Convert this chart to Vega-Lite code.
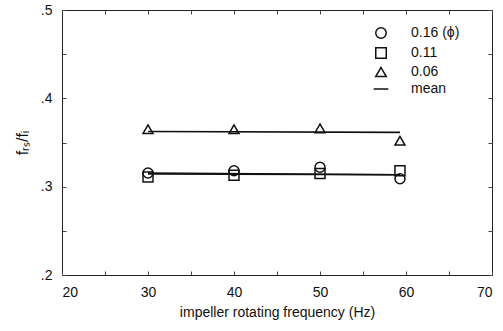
{
  "$schema": "https://vega.github.io/schema/vega-lite/v6.json",
  "autosize": "none",
  "width": 430,
  "height": 265,
  "padding": {"left": 62, "top": 10, "right": 11, "bottom": 56},
  "background": "white",
  "config": {
    "font": "Liberation Sans",
    "view": {"stroke": "#222", "strokeWidth": 1},
    "axis": {"grid": false, "domain": false, "labelFont": "Liberation Sans", "titleFont": "Liberation Sans", "labelColor": "#111", "titleColor": "#111", "titleFontWeight": "normal", "tickColor": "#444", "labelFontSize": 14, "titleFontSize": 14}
  },
  "datasets": {
    "pts": [
      {"series": "0.16 (ϕ)", "freq": 30, "ratio": 0.3155},
      {"series": "0.16 (ϕ)", "freq": 40, "ratio": 0.318},
      {"series": "0.16 (ϕ)", "freq": 50, "ratio": 0.322},
      {"series": "0.16 (ϕ)", "freq": 59.3, "ratio": 0.309},
      {"series": "0.11", "freq": 30, "ratio": 0.311},
      {"series": "0.11", "freq": 40, "ratio": 0.313},
      {"series": "0.11", "freq": 50, "ratio": 0.315},
      {"series": "0.11", "freq": 59.3, "ratio": 0.318},
      {"series": "0.06", "freq": 30, "ratio": 0.365},
      {"series": "0.06", "freq": 40, "ratio": 0.365},
      {"series": "0.06", "freq": 50, "ratio": 0.366},
      {"series": "0.06", "freq": 59.3, "ratio": 0.352}
    ],
    "means": [
      {"series": "0.16 (ϕ)", "freq": 30, "ratio": 0.3155},
      {"series": "0.16 (ϕ)", "freq": 59.3, "ratio": 0.3135},
      {"series": "0.11", "freq": 30, "ratio": 0.3145},
      {"series": "0.11", "freq": 59.3, "ratio": 0.3135},
      {"series": "0.06", "freq": 30, "ratio": 0.3625},
      {"series": "0.06", "freq": 59.3, "ratio": 0.3615}
    ]
  },
  "layer": [
    {
      "data": {"name": "means"},
      "mark": {"type": "line", "color": "#111", "strokeWidth": 1.6},
      "encoding": {
        "x": {"field": "freq", "type": "quantitative", "scale": {"domain": [20, 70]},
          "axis": {"orient": "bottom", "values": [20,25,30,35,40,45,50,55,60,65,70], "labelExpr": "datum.value % 10 === 0 ? datum.label : ''", "tickSize": -4, "labelPadding": 14, "title": "impeller rotating frequency (Hz)", "titlePadding": 6}},
        "y": {"field": "ratio", "type": "quantitative", "scale": {"domain": [0.2, 0.5]},
          "axis": {"orient": "left", "values": [0.2,0.25,0.3,0.35,0.4,0.45,0.5], "labelExpr": "abs(datum.value*10 - round(datum.value*10)) < 0.001 ? replace(format(datum.value, '.1f'), '0.', '.') : ''", "tickSize": -4, "labelPadding": 14, "title": "fᵣₛ/fᵢ", "titleFontSize": 16, "titlePadding": 10}},
        "detail": {"field": "series"}
      }
    },
    {
      "data": {"name": "pts"},
      "mark": {"type": "point", "filled": false, "strokeWidth": 1.5, "size": 100, "color": "#111", "opacity": 1},
      "encoding": {
        "x": {"field": "freq", "type": "quantitative", "axis": {"orient": "top", "values": [20,25,30,35,40,45,50,55,60,65,70], "labels": false, "tickSize": -4, "title": null}},
        "y": {"field": "ratio", "type": "quantitative", "axis": {"orient": "right", "values": [0.2,0.25,0.3,0.35,0.4,0.45,0.5], "labels": false, "tickSize": -4, "title": null}},
        "shape": {"field": "series", "type": "nominal",
          "scale": {"domain": ["0.16 (ϕ)", "0.11", "0.06", "mean"], "range": ["circle", "square", "triangle-up", "M-1.4,0H1.4"]},
          "legend": {"title": null, "orient": "none", "legendX": 312, "legendY": 16, "labelFontSize": 14, "labelFont": "Liberation Sans", "labelColor": "#111", "symbolSize": 110, "symbolStrokeColor": "#111", "symbolFillColor": "transparent", "symbolStrokeWidth": 1.5, "rowPadding": 2, "labelOffset": 23}}
      }
    }
  ],
  "resolve": {"axis": {"x": "independent", "y": "independent"}}
}
